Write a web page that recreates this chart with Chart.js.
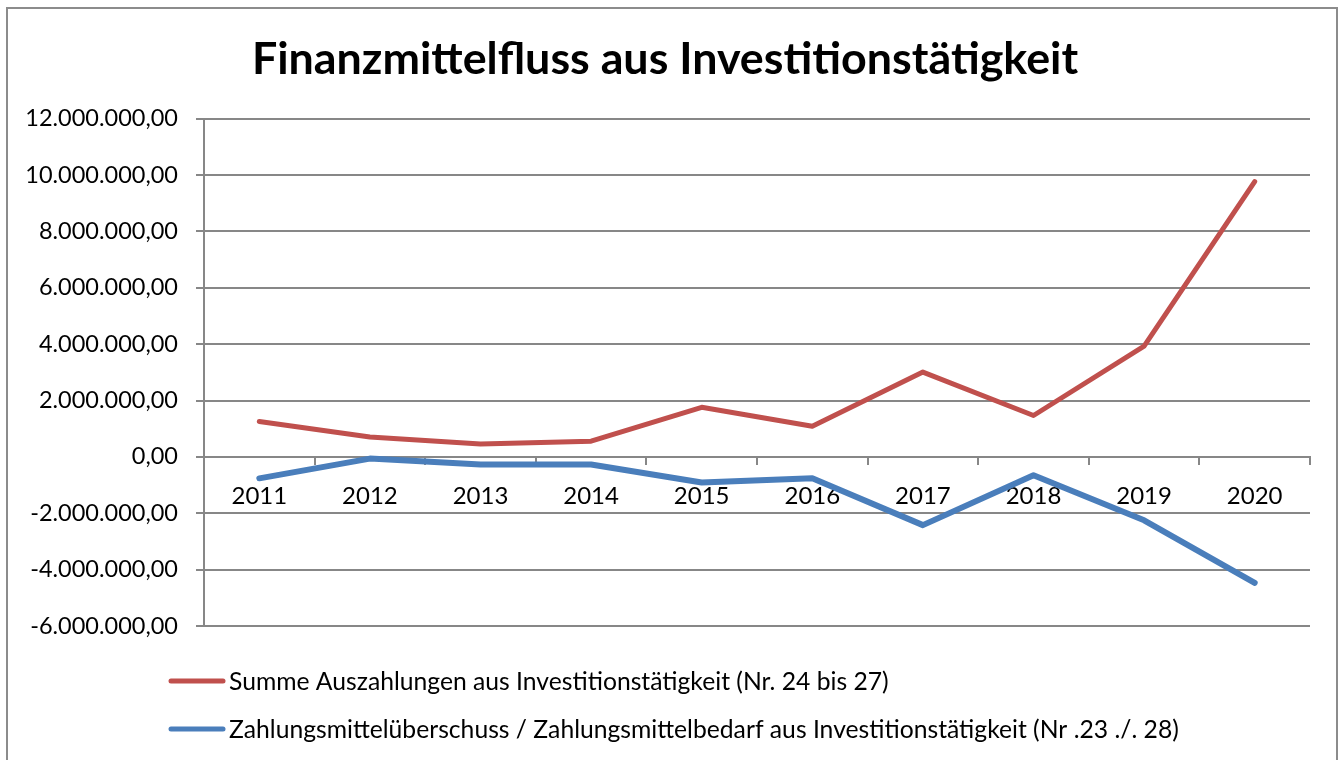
<!DOCTYPE html>
<html>
<head>
<meta charset="utf-8">
<script src="https://cdn.jsdelivr.net/npm/chart.js@4"></script>
<style>
  html, body { margin: 0; padding: 0; background: #fff; overflow: hidden; }
  #frame { position: absolute; left: 6px; top: 7px; width: 1328px; height: 800px; border: 2px solid #8c8c8c; }
  #chart { position: absolute; left: 0; top: 0; }
</style>
</head>
<body>
<div id="frame"></div>
<canvas id="chart" width="1343" height="760"></canvas>
<script>
// Finanzmittelfluss aus Investitionstätigkeit
const years = ['2011', '2012', '2013', '2014', '2015', '2016', '2017', '2018', '2019', '2020']
const auszahlungen = [1260000, 710000, 460000, 560000, 1760000, 1090000, 3010000, 1470000, 3930000, 9770000]
const saldo = [-760000, -60000, -270000, -270000, -910000, -760000, -2420000, -650000, -2250000, -4470000]
const yTicks = [-6000000, -4000000, -2000000, 0, 2000000, 4000000, 6000000, 8000000, 10000000, 12000000]

const labelAuszahlungen = 'Summe Auszahlungen aus Investitionstätigkeit (Nr. 24 bis 27)'
const labelSaldo = 'Zahlungsmittelüberschuss / Zahlungsmittelbedarf aus Investitionstätigkeit (Nr .23 ./. 28)'

const font = 'Lato'
const gridColor = '#878787'

// 12000000 -> "12.000.000,00"
function formatDE(v) {
    let neg = v < 0
    let s = Math.abs(Math.round(v)).toString().replace(/\B(?=(\d{3})+(?!\d))/g, '.')
    return (neg ? '-' : '') + s + ',00'
}

// legend drawn as two stacked rows, left aligned, like the Excel chart
const stackedLegend = {
    id: 'stackedLegend',
    afterDraw(chart) {
        let ctx = chart.ctx
        ctx.save()
        ctx.font = `24.7px ${font}`
        ctx.textBaseline = 'middle'
        ctx.lineCap = 'round'
        chart.data.datasets.forEach((ds, i) => {
            let y = 681 + i * 48
            ctx.strokeStyle = ds.borderColor
            ctx.lineWidth = 5
            ctx.beginPath()
            ctx.moveTo(171, y)
            ctx.lineTo(223, y)
            ctx.stroke()
            ctx.fillStyle = '#000'
            ctx.fillText(ds.label, 229, y + 1)
        })
        ctx.restore()
    }
}

let chartdisplay = new Chart(document.getElementById('chart'), {
    type: 'line',
    data: {
        labels: years,
        datasets: [
            {
                label: labelAuszahlungen,
                data: auszahlungen,
                borderColor: '#C0504D',
                backgroundColor: '#C0504D',
                borderWidth: 5,
                pointRadius: 0,
                tension: 0,
                borderCapStyle: 'round',
                borderJoinStyle: 'round'
            },
            {
                label: labelSaldo,
                data: saldo,
                borderColor: '#4A7EBB',
                backgroundColor: '#4A7EBB',
                borderWidth: 6,
                pointRadius: 0,
                tension: 0,
                borderCapStyle: 'round',
                borderJoinStyle: 'round'
            }
        ]
    },
    options: {
        responsive: false,
        animation: false,
        layout: { padding: { left: 20, right: 33, top: 0, bottom: 134 } },
        plugins: {
            legend: { display: false },
            tooltip: { enabled: false },
            title: {
                display: true,
                text: 'Finanzmittelfluss aus Investitionstätigkeit',
                color: '#000',
                font: { family: font, size: 44.8, weight: 'bold' },
                padding: { top: 33, bottom: 32 }
            }
        },
        scales: {
            x: {
                position: { y: 0 },
                offset: true,
                afterFit(s) { s.height = 0 },
                grid: {
                    offset: true,
                    drawOnChartArea: false,
                    drawTicks: true,
                    tickLength: 7,
                    color: gridColor,
                    lineWidth: 2
                },
                border: { display: true, color: gridColor, width: 2 },
                ticks: {
                    color: '#000',
                    font: { family: font, size: 24 },
                    padding: 18,
                    maxRotation: 0
                }
            },
            y: {
                min: -6000000,
                max: 12000000,
                afterFit(s) { s.width = 184 },
                afterBuildTicks(s) { s.ticks = yTicks.map(v => ({ value: v })) },
                grid: {
                    color: gridColor,
                    lineWidth: 2,
                    tickLength: 8
                },
                border: { display: true, color: gridColor, width: 2 },
                ticks: {
                    color: '#000',
                    font: { family: font, size: 23.5 },
                    padding: 18,
                    callback: v => formatDE(v)
                }
            }
        }
    },
    plugins: [stackedLegend]
})
</script>
</body>
</html>
